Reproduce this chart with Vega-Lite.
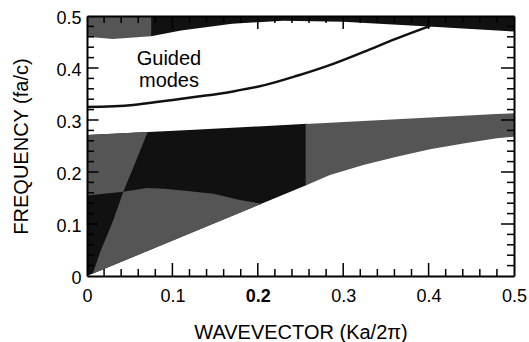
{
  "$schema": "https://vega.github.io/schema/vega-lite/v6.json",
  "width": 427,
  "height": 260,
  "autosize": {"type": "none"},
  "padding": {"left": 87, "top": 16, "right": 15, "bottom": 66},
  "background": "white",
  "config": {
    "view": {"stroke": null},
    "axis": {
      "domainColor": "black",
      "labelColor": "black",
      "titleColor": "black",
      "labelFont": "Liberation Sans",
      "titleFont": "Liberation Sans",
      "titleFontWeight": "normal",
      "grid": false
    }
  },
  "datasets": {
    "dark_lower": [
      {"piece": "D", "k": 0, "lo": 0, "hi": 0.271},
      {"piece": "D", "k": 0.12, "lo": 0.0816, "hi": 0.281},
      {"piece": "D", "k": 0.2, "lo": 0.136, "hi": 0.2877},
      {"piece": "D", "k": 0.258, "lo": 0.1754, "hi": 0.2927}
    ],
    "dark_upper": [
      {"piece": "T", "k": 0.075, "lo": 0.461, "hi": 0.5},
      {"piece": "T", "k": 0.11, "lo": 0.472, "hi": 0.5},
      {"piece": "T", "k": 0.17, "lo": 0.485, "hi": 0.5},
      {"piece": "T", "k": 0.23, "lo": 0.491, "hi": 0.5},
      {"piece": "T", "k": 0.3, "lo": 0.489, "hi": 0.5},
      {"piece": "T", "k": 0.4, "lo": 0.48, "hi": 0.5},
      {"piece": "T", "k": 0.5, "lo": 0.47, "hi": 0.5}
    ],
    "gray": [
      {"piece": "TG", "k": 0, "lo": 0.46, "hi": 0.5},
      {"piece": "TG", "k": 0.03, "lo": 0.456, "hi": 0.5},
      {"piece": "TG", "k": 0.075, "lo": 0.461, "hi": 0.5},
      {"piece": "A", "k": 0, "lo": 0.155, "hi": 0.271},
      {"piece": "A", "k": 0.0425, "lo": 0.162, "hi": 0.2746},
      {"piece": "A", "k": 0.057, "lo": 0.2195, "hi": 0.2758},
      {"piece": "A", "k": 0.071, "lo": 0.277, "hi": 0.277},
      {"piece": "C", "k": 0.007, "lo": 0.0048, "hi": 0.006},
      {"piece": "C", "k": 0.015, "lo": 0.0102, "hi": 0.044},
      {"piece": "C", "k": 0.031, "lo": 0.0211, "hi": 0.108},
      {"piece": "C", "k": 0.0425, "lo": 0.0289, "hi": 0.162},
      {"piece": "C", "k": 0.07, "lo": 0.0476, "hi": 0.169},
      {"piece": "C", "k": 0.09, "lo": 0.0612, "hi": 0.168},
      {"piece": "C", "k": 0.109, "lo": 0.0741, "hi": 0.165},
      {"piece": "C", "k": 0.148, "lo": 0.1006, "hi": 0.158},
      {"piece": "C", "k": 0.179, "lo": 0.1217, "hi": 0.146},
      {"piece": "C", "k": 0.204, "lo": 0.1387, "hi": 0.139},
      {"piece": "E", "k": 0.256, "lo": 0.174, "hi": 0.2925},
      {"piece": "E", "k": 0.2845, "lo": 0.194, "hi": 0.2949},
      {"piece": "E", "k": 0.3236, "lo": 0.2135, "hi": 0.2982},
      {"piece": "E", "k": 0.3626, "lo": 0.2295, "hi": 0.3015},
      {"piece": "E", "k": 0.4016, "lo": 0.2436, "hi": 0.3047},
      {"piece": "E", "k": 0.4407, "lo": 0.255, "hi": 0.308},
      {"piece": "E", "k": 0.4798, "lo": 0.2647, "hi": 0.3113},
      {"piece": "E", "k": 0.5, "lo": 0.268, "hi": 0.313}
    ],
    "mode": [
      {"k": 0, "f": 0.325},
      {"k": 0.054, "f": 0.329},
      {"k": 0.093, "f": 0.337},
      {"k": 0.13, "f": 0.345},
      {"k": 0.171, "f": 0.355},
      {"k": 0.208, "f": 0.367},
      {"k": 0.246, "f": 0.385},
      {"k": 0.285, "f": 0.406},
      {"k": 0.324, "f": 0.431},
      {"k": 0.363, "f": 0.457},
      {"k": 0.402, "f": 0.481}
    ],
    "major": [
      {"v": 0.1}, {"v": 0.2}, {"v": 0.3}, {"v": 0.4}
    ],
    "minor": [
      {"v": 0.02}, {"v": 0.04}, {"v": 0.06}, {"v": 0.08},
      {"v": 0.12}, {"v": 0.14}, {"v": 0.16}, {"v": 0.18},
      {"v": 0.22}, {"v": 0.24}, {"v": 0.26}, {"v": 0.28},
      {"v": 0.32}, {"v": 0.34}, {"v": 0.36}, {"v": 0.38},
      {"v": 0.42}, {"v": 0.44}, {"v": 0.46}, {"v": 0.48}
    ]
  },
  "resolve": {"axis": {"x": "independent", "y": "independent"}},
  "layer": [
    {
      "data": {"name": "dark_lower"},
      "mark": {"type": "area", "color": "#111111", "interpolate": "linear"},
      "encoding": {
        "x": {
          "field": "k", "type": "quantitative",
          "scale": {"domain": [0, 0.5], "nice": false, "zero": false},
          "axis": {
            "orient": "bottom", "zindex": 1,
            "values": [0, 0.1, 0.2, 0.3, 0.4, 0.5],
            "ticks": false, "tickSize": 0, "domain": true, "domainWidth": 2,
            "labelFontSize": 18, "labelPadding": 11,
            "labelExpr": "datum.value == 0 ? '0' : format(datum.value, '.1f')",
            "labelFontWeight": {"condition": {"test": "datum.value == 0.2", "value": "bold"}, "value": "normal"},
            "labelFlush": false, "labelOverlap": false,
            "title": "WAVEVECTOR (Ka/2π)", "titleFontSize": 20, "titlePadding": 17
          }
        },
        "y": {
          "field": "lo", "type": "quantitative", "stack": null,
          "scale": {"domain": [0, 0.5], "nice": false, "zero": false},
          "axis": {
            "orient": "left", "zindex": 1,
            "values": [0, 0.1, 0.2, 0.3, 0.4, 0.5],
            "ticks": false, "tickSize": 0, "domain": true, "domainWidth": 2,
            "labelFontSize": 18, "labelPadding": 6, "labelOffset": 2,
            "labelExpr": "datum.value == 0 ? '0' : format(datum.value, '.1f')",
            "labelFlush": false, "labelOverlap": false,
            "title": "FREQUENCY (fa/c)", "titleFontSize": 20, "titlePadding": 24
          }
        },
        "y2": {"field": "hi"},
        "detail": {"field": "piece"}
      }
    },
    {
      "data": {"name": "dark_upper"},
      "mark": {"type": "area", "color": "#111111", "interpolate": "linear"},
      "encoding": {
        "x": {
          "field": "k", "type": "quantitative",
          "axis": {
            "orient": "top", "zindex": 1, "values": [0, 0.5],
            "ticks": false, "tickSize": 0, "domainWidth": 2, "labels": false, "title": null
          }
        },
        "y": {
          "field": "lo", "type": "quantitative", "stack": null,
          "axis": {
            "orient": "right", "zindex": 1, "values": [0, 0.5],
            "ticks": false, "tickSize": 0, "domainWidth": 2, "labels": false, "title": null
          }
        },
        "y2": {"field": "hi"},
        "detail": {"field": "piece"}
      }
    },
    {
      "data": {"name": "gray"},
      "mark": {"type": "area", "color": "#555555", "interpolate": "linear"},
      "encoding": {
        "x": {"field": "k", "type": "quantitative", "axis": null},
        "y": {"field": "lo", "type": "quantitative", "stack": null, "axis": null},
        "y2": {"field": "hi"},
        "detail": {"field": "piece"}
      }
    },
    {
      "data": {"name": "mode"},
      "mark": {"type": "line", "color": "#111111", "strokeWidth": 2.5, "interpolate": "monotone"},
      "encoding": {
        "x": {"field": "k", "type": "quantitative", "axis": null},
        "y": {"field": "f", "type": "quantitative", "axis": null}
      }
    },
    {
      "data": {"name": "major"},
      "mark": {"type": "rule", "color": "black", "strokeWidth": 1.5},
      "encoding": {
        "x": {"field": "v", "type": "quantitative", "axis": null},
        "y": {"datum": 0, "type": "quantitative", "axis": null},
        "y2": {"datum": 0.025}
      }
    },
    {
      "data": {"name": "minor"},
      "mark": {"type": "rule", "color": "black", "strokeWidth": 1.5},
      "encoding": {
        "x": {"field": "v", "type": "quantitative", "axis": null},
        "y": {"datum": 0, "type": "quantitative", "axis": null},
        "y2": {"datum": 0.0135}
      }
    },
    {
      "data": {"name": "major"},
      "mark": {"type": "rule", "color": "black", "strokeWidth": 1.5},
      "encoding": {
        "x": {"field": "v", "type": "quantitative", "axis": null},
        "y": {"datum": 0.5, "type": "quantitative", "axis": null},
        "y2": {"datum": 0.475}
      }
    },
    {
      "data": {"name": "minor"},
      "mark": {"type": "rule", "color": "black", "strokeWidth": 1.5},
      "encoding": {
        "x": {"field": "v", "type": "quantitative", "axis": null},
        "y": {"datum": 0.5, "type": "quantitative", "axis": null},
        "y2": {"datum": 0.4865}
      }
    },
    {
      "data": {"name": "major"},
      "mark": {"type": "rule", "color": "black", "strokeWidth": 1.5},
      "encoding": {
        "y": {"field": "v", "type": "quantitative", "axis": null},
        "x": {"datum": 0, "type": "quantitative", "axis": null},
        "x2": {"datum": 0.0135}
      }
    },
    {
      "data": {"name": "minor"},
      "mark": {"type": "rule", "color": "black", "strokeWidth": 1.5},
      "encoding": {
        "y": {"field": "v", "type": "quantitative", "axis": null},
        "x": {"datum": 0, "type": "quantitative", "axis": null},
        "x2": {"datum": 0.0082}
      }
    },
    {
      "data": {"name": "major"},
      "mark": {"type": "rule", "color": "black", "strokeWidth": 1.5},
      "encoding": {
        "y": {"field": "v", "type": "quantitative", "axis": null},
        "x": {"datum": 0.5, "type": "quantitative", "axis": null},
        "x2": {"datum": 0.4848}
      }
    },
    {
      "data": {"name": "minor"},
      "mark": {"type": "rule", "color": "black", "strokeWidth": 1.5},
      "encoding": {
        "y": {"field": "v", "type": "quantitative", "axis": null},
        "x": {"datum": 0.5, "type": "quantitative", "axis": null},
        "x2": {"datum": 0.4918}
      }
    },
    {
      "data": {"values": [{}]},
      "mark": {"type": "text", "text": "Guided\nmodes", "lineBreak": "\n", "font": "Liberation Sans", "fontSize": 20, "lineHeight": 22, "align": "center", "baseline": "alphabetic", "color": "black"},
      "encoding": {
        "x": {"datum": 0.096, "type": "quantitative", "axis": null},
        "y": {"datum": 0.406, "type": "quantitative", "axis": null}
      }
    }
  ]
}
